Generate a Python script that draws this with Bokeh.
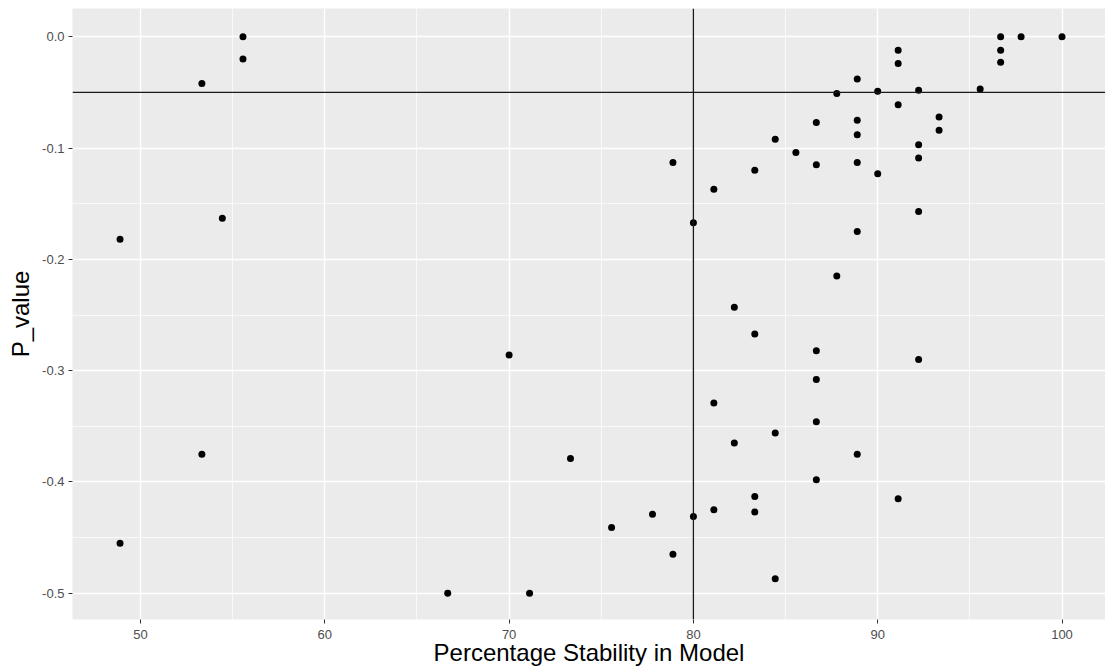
from bokeh.plotting import figure
from bokeh.models import Span, FixedTicker, NumeralTickFormatter, ColumnDataSource
from bokeh.embed import file_html
from bokeh.resources import INLINE

stability = [48.89, 48.89, 53.33, 53.33, 54.44, 55.56, 55.56, 66.67, 70.00, 71.11,
             73.33, 75.56, 77.78, 78.89, 78.89, 80.00, 80.00, 81.11, 81.11, 81.11,
             82.22, 82.22, 83.33, 83.33, 83.33, 83.33, 84.44, 84.44, 84.44, 85.56,
             86.67, 86.67, 86.67, 86.67, 86.67, 86.67, 87.78, 87.78, 88.89, 88.89,
             88.89, 88.89, 88.89, 88.89, 90.00, 90.00, 91.11, 91.11, 91.11, 91.11,
             92.22, 92.22, 92.22, 92.22, 92.22, 93.33, 93.33, 95.56, 96.67, 96.67,
             96.67, 97.78, 100.0]
p_value = [-0.182, -0.455, -0.042, -0.375, -0.163, 0.000, -0.020, -0.500, -0.286, -0.500,
           -0.379, -0.441, -0.429, -0.113, -0.465, -0.167, -0.431, -0.137, -0.329, -0.425,
           -0.243, -0.365, -0.120, -0.267, -0.413, -0.427, -0.092, -0.356, -0.487, -0.104,
           -0.077, -0.115, -0.282, -0.308, -0.346, -0.398, -0.051, -0.215, -0.038, -0.075,
           -0.088, -0.113, -0.175, -0.375, -0.049, -0.123, -0.012, -0.024, -0.061, -0.415,
           -0.048, -0.097, -0.109, -0.157, -0.290, -0.072, -0.084, -0.047, 0.000, -0.012,
           -0.023, 0.000, 0.000]

x_ticks = [50, 60, 70, 80, 90, 100]
x_minor = [45, 55, 65, 75, 85, 95]
y_ticks = [0.0, -0.1, -0.2, -0.3, -0.4, -0.5]
y_minor = [0.05, -0.05, -0.15, -0.25, -0.35, -0.45]
x_line = 80
y_line = -0.05

W, H = 1105, 668
frame_h = 611
px_per_y = 1113.0
y_top = 0.0254
y_bottom = y_top - frame_h / px_per_y

p = figure(width=W, height=H, output_backend="svg", toolbar_location=None,
           x_range=(46.31, 102.36), y_range=(y_bottom, y_top))
p.min_border_left = 72
p.min_border_right = 0
p.min_border_top = 8
p.min_border_bottom = 0
p.background_fill_color = "#EBEBEB"
p.border_fill_color = "white"
p.outline_line_color = None

for ax in (p.xaxis[0], p.yaxis[0]):
    ax.axis_line_color = None
    ax.major_tick_line_color = "#333333"
    ax.major_tick_line_width = 1
    ax.major_tick_out = 4
    ax.major_tick_in = 0
    ax.minor_tick_line_color = None
    ax.major_label_text_font = "Liberation Sans"
    ax.major_label_text_font_size = "13px"
    ax.major_label_text_color = "#4D4D4D"
    ax.axis_label_text_font = "Liberation Sans"
    ax.axis_label_text_font_size = "24px"
    ax.axis_label_text_font_style = "normal"
    ax.axis_label_text_color = "black"

p.xaxis.ticker = FixedTicker(ticks=x_ticks, minor_ticks=x_minor)
p.yaxis.ticker = FixedTicker(ticks=y_ticks, minor_ticks=y_minor)
p.xaxis.formatter = NumeralTickFormatter(format="0")
p.yaxis.formatter = NumeralTickFormatter(format="0.0")
p.xaxis.axis_label = "Percentage Stability in Model"
p.yaxis.axis_label = "P_value"
p.xaxis.major_label_standoff = 6
p.yaxis.major_label_standoff = 4
p.xaxis.axis_label_standoff = -3
p.yaxis.axis_label_standoff = 5

for g in (p.xgrid[0], p.ygrid[0]):
    g.grid_line_color = "white"
    g.grid_line_width = 1.4
    g.minor_grid_line_color = "white"
    g.minor_grid_line_width = 0.7

src = ColumnDataSource(dict(x=stability, y=p_value))
p.scatter("x", "y", source=src, size=7, fill_color="black", line_color="black", line_width=0)

p.add_layout(Span(location=y_line, dimension="width", line_color="#1a1a1a", line_width=1.3))
p.add_layout(Span(location=x_line, dimension="height", line_color="#1a1a1a", line_width=1.3))

open("out.html", "w").write(file_html(p, INLINE))
